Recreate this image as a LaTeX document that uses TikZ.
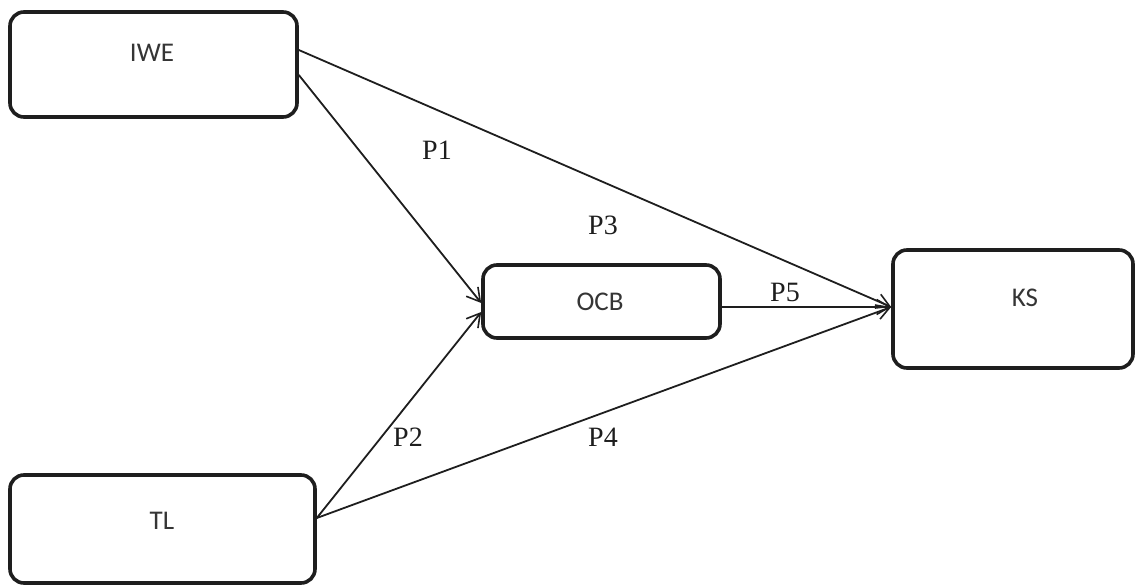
\documentclass[tikz,border=0pt]{standalone}
\usepackage{fontspec}
\setmainfont{Liberation Serif}
\newfontfamily\boxfont{Carlito}
\usetikzlibrary{arrows.meta,calc}
\definecolor{ink}{RGB}{30,30,30}
\begin{document}
\begin{tikzpicture}[x=1pt,y=-1pt,
  box/.style={draw=ink, line width=3.6pt, rounded corners=14pt, inner sep=0pt},
  boxtext/.style={font=\boxfont\fontsize{27}{30}\selectfont, text=ink!90, inner sep=0pt},
  ptext/.style={font=\fontsize{28}{32}\selectfont, text=ink, inner sep=0pt},
  conn/.style={draw=ink, line width=1.8pt, -{Straight Barb[length=13pt,width=15pt,line width=1.6pt]}}
]
\useasboundingbox (0,0) rectangle (1136,586);
\fill[white] (0,0) rectangle (1136,586);
% boxes
\node[box, minimum width=287pt, minimum height=105pt] (iwe) at (153.5,64.5) {};
\node[boxtext] (iwet) at (152,53) {IWE};
\node[box, minimum width=305pt, minimum height=108pt] (tl) at (162.5,529) {};
\node[boxtext] (tlt) at (162,521) {TL};
\node[box, minimum width=237pt, minimum height=73pt] (ocb) at (601.5,301.5) {};
\node[boxtext] (ocbt) at (600,302) {OCB};
\node[box, minimum width=240pt, minimum height=118pt] (ks) at (1013,309) {};
\node[boxtext] (kst) at (1025,298) {KS};
% connector end points
\coordinate (iweA) at ($(iwe.east)+(0,-14.5)$);
\coordinate (iweB) at ($(iwe.east)+(0,10.5)$);
\coordinate (tlA) at ($(tl.east)+(0,-11)$);
\coordinate (ocbIn1) at ($(ocb.west)+(0,1.5)$);
\coordinate (ocbIn2) at ($(ocb.west)+(0,10.5)$);
\coordinate (ocbOut) at ($(ocb.east)+(0,5.5)$);
\coordinate (ksIn) at ($(ks.west)+(0,-2)$);
% connectors
\draw[conn] (iweB) -- (ocbIn1);
\draw[conn] (iweA) -- (ksIn);
\draw[conn] (tlA) -- (ocbIn2);
\draw[conn] (tlA) -- (ksIn);
\draw[conn] (ocbOut) -- (ksIn);
% labels
\node[ptext] (p1) at (437,150) {P1};
\node[ptext] (p3) at (603,225) {P3};
\node[ptext] (p5) at (785,292) {P5};
\node[ptext] (p2) at (408,437) {P2};
\node[ptext] (p4) at (603,437) {P4};
\end{tikzpicture}
\end{document}
